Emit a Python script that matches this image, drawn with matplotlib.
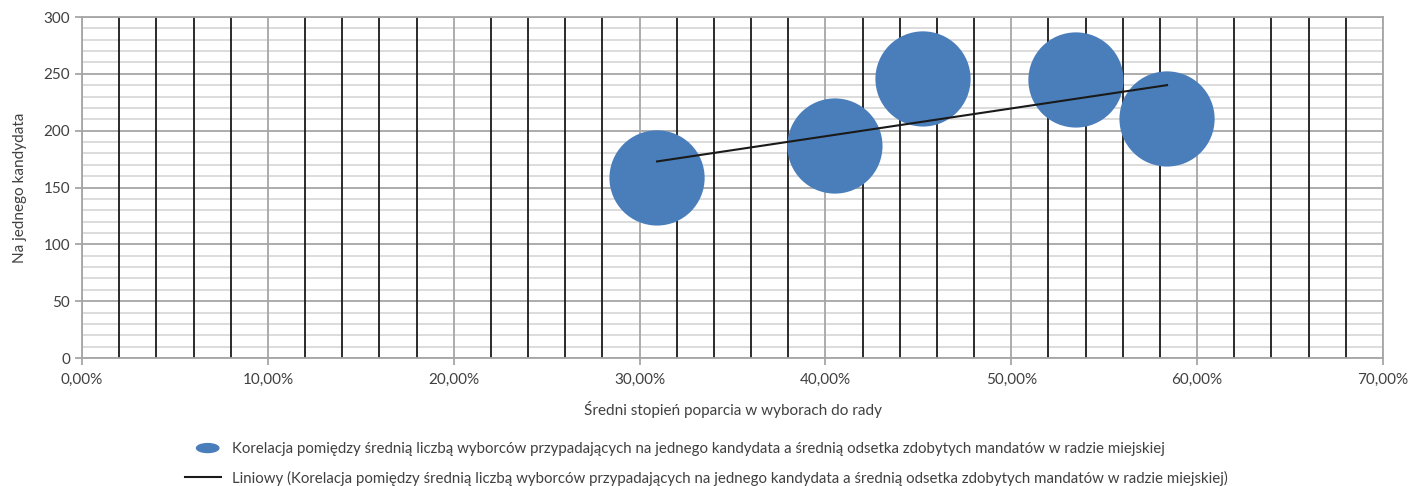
import numpy as np
import matplotlib
matplotlib.use("Agg")
import matplotlib.pyplot as plt
from matplotlib.patches import Ellipse
from matplotlib.legend_handler import HandlerBase
from matplotlib.ticker import MultipleLocator, FuncFormatter

support = [0.3094, 0.4051, 0.4525, 0.5348, 0.5838]
voters = [158.4, 186.5, 245.5, 244.6, 210.3]
bubble = [4700, 4700, 4700, 4700, 4700]

series_label = ("Korelacja pomiędzy średnią liczbą wyborców przypadających na jednego kandydata "
                "a średnią odsetka zdobytych mandatów w radzie miejskiej")
trend_label = "Liniowy (" + series_label + ")"

BLUE = "#4a7ebb"
GRID = "#a6a6a6"
MINOR_H = "#d9d9d9"
INK = "#404040"


class EllipseHandler(HandlerBase):
    # Excel draws the bubble legend key as a flat ellipse
    def create_artists(self, legend, orig, xd, yd, width, height, fontsize, trans):
        e = Ellipse((xd + width * 0.62, yd + height / 2), width * 0.62, height * 0.85,
                    color=BLUE, transform=trans)
        return [e]


plt.rcParams["font.family"] = ["Lato", "DejaVu Sans"]

fig = plt.figure(figsize=(14.13, 4.86), dpi=100)
ax = fig.add_axes([82 / 1413, 1 - 358 / 486, 1301 / 1413, 341 / 486])

ax.set_xlim(0, 0.7)
ax.set_ylim(0, 300)
ax.xaxis.set_major_locator(MultipleLocator(0.1))
ax.xaxis.set_minor_locator(MultipleLocator(0.02))
ax.yaxis.set_major_locator(MultipleLocator(50))
ax.yaxis.set_minor_locator(MultipleLocator(10))
ax.xaxis.set_major_formatter(FuncFormatter(lambda v, p: f"{v * 100:.2f}%".replace(".", ",")))

ax.grid(which="minor", axis="x", color="#1a1a1a", linewidth=1.3)
ax.grid(which="major", axis="x", color=GRID, linewidth=1.3)
ax.grid(which="minor", axis="y", color=MINOR_H, linewidth=1.3)
ax.grid(which="major", axis="y", color=GRID, linewidth=1.3)
ax.set_axisbelow(True)
# vertical lines sit on top of the horizontal ones
ax.yaxis.set_zorder(0.4)
ax.xaxis.set_zorder(0.6)

for s in ax.spines.values():
    s.set_color(GRID)
    s.set_linewidth(1.3)
ax.tick_params(which="major", colors=GRID, labelcolor=INK, labelsize=11, length=5, width=1.3)
ax.tick_params(axis="x", which="major", pad=6)
ax.tick_params(which="minor", length=0)

bubbles = ax.scatter(support, voters, s=bubble, color=BLUE, zorder=3, linewidths=0,
                     label=series_label)

k, b = np.polyfit(support, voters, 1)
xs = np.array([min(support), max(support)])
ax.plot(xs, k * xs + b, color="#1a1a1a", linewidth=1.5, zorder=4, label=trend_label)

ax.set_xlabel("Średni stopień poparcia w wyborach do rady", fontsize=11, color=INK, labelpad=10)
ax.set_ylabel("Na jednego kandydata", fontsize=11, color=INK, labelpad=12)

handles, labels = ax.get_legend_handles_labels()
leg = fig.legend(handles, labels, loc="lower center", bbox_to_anchor=(0.5, -0.027),
                 ncol=1, frameon=False, fontsize=10.8,
                 handlelength=2.4, labelspacing=0.95, handletextpad=0.7,
                 handler_map={bubbles: EllipseHandler()})
for t in leg.get_texts():
    t.set_color(INK)

fig.savefig("out.png", dpi=100, facecolor="white")
